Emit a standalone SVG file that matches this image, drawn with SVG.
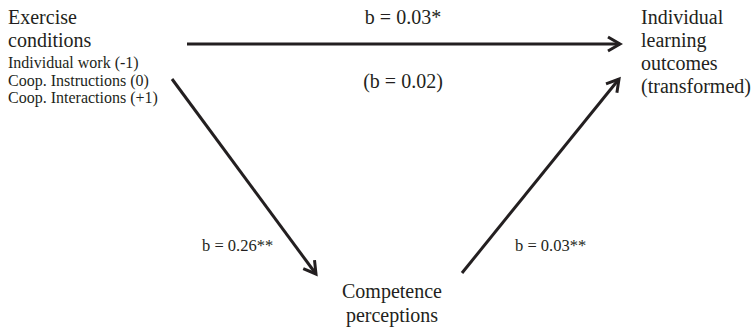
<svg xmlns="http://www.w3.org/2000/svg" width="755" height="334" viewBox="0 0 755 334">
<style>
text{font-family:"Liberation Serif","Times New Roman",serif;fill:#231f20}
.big{font-size:20px}
.sm{font-size:16px}
.lbl{font-size:16.5px}
.edge{stroke:#231f20;stroke-width:3;fill:none}
</style>
<defs>
<marker id="ah" markerUnits="userSpaceOnUse" markerWidth="20" markerHeight="20" viewBox="0 0 20 20" refX="17" refY="10" orient="auto">
<path d="M5,3 L17,10 L5,17" fill="none" stroke="#231f20" stroke-width="3"/>
</marker>
</defs>
<rect width="755" height="334" fill="#fff"/>
<g id="connectors">
<line class="edge" x1="187" y1="44" x2="620" y2="44" marker-end="url(#ah)"/>
<line class="edge" x1="172" y1="79" x2="316" y2="274" marker-end="url(#ah)"/>
<line class="edge" x1="462" y1="273" x2="619" y2="79" marker-end="url(#ah)"/>
</g>
<g id="labels">
<text class="big" x="403" y="24" text-anchor="middle">b = 0.03*</text>
<text class="big" x="403" y="88" text-anchor="middle">(b = 0.02)</text>
<text class="lbl" x="202" y="251">b = 0.26**</text>
<text class="lbl" x="515" y="251">b = 0.03**</text>
</g>
<g id="exercise">
<text class="big" x="8" y="24">Exercise</text>
<text class="big" x="8" y="47">conditions</text>
<text class="sm" x="8" y="68">Individual work (-1)</text>
<text class="sm" x="8" y="86">Coop. Instructions (0)</text>
<text class="sm" x="8" y="103">Coop. Interactions (+1)</text>
</g>
<g id="outcomes">
<text class="big" x="641" y="24">Individual</text>
<text class="big" x="641" y="47">learning</text>
<text class="big" x="641" y="70">outcomes</text>
<text class="big" x="641" y="93">(transformed)</text>
</g>
<g id="competence">
<text class="big" x="392" y="298" text-anchor="middle">Competence</text>
<text class="big" x="392" y="322" text-anchor="middle">perceptions</text>
</g>
</svg>
